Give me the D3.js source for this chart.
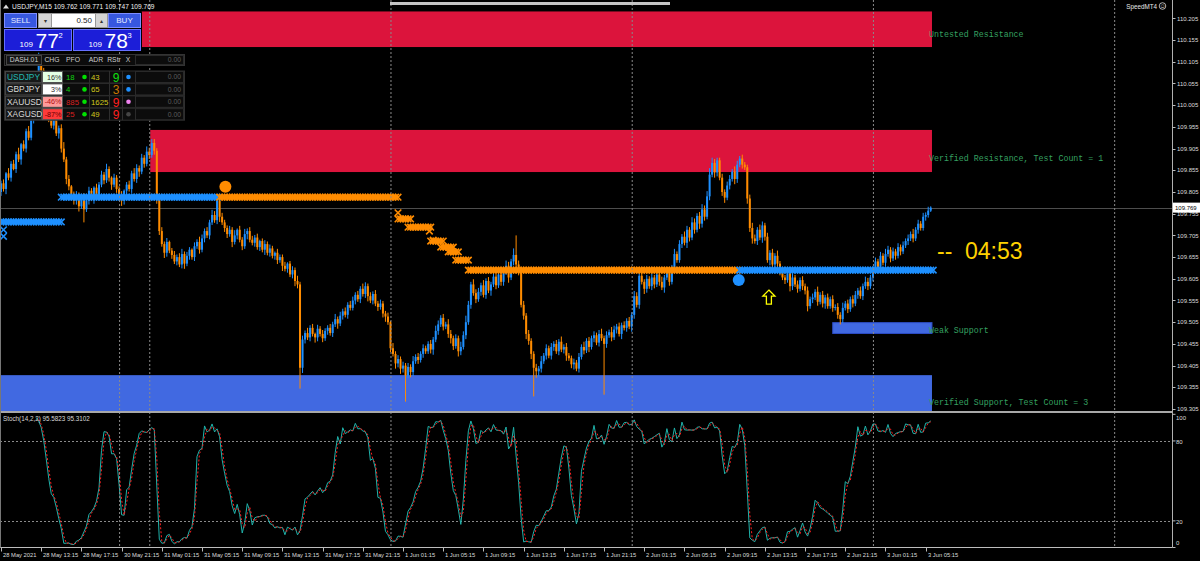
<!DOCTYPE html>
<html><head><meta charset="utf-8"><title>USDJPY,M15</title>
<script src="https://cdn.jsdelivr.net/npm/d3@7"></script>
<style>
html,body{margin:0;padding:0;background:#000;overflow:hidden;}
svg{display:block;font-family:"Liberation Sans",Arial,sans-serif;}
</style></head><body>
<svg id="chart" width="1200" height="561"></svg>
<script>
// ================= DATA =================
const symbolTitle = "USDJPY,M15";
const ohlcHeader = ["109.762", "109.771", "109.747", "109.769"];
const lastPrice = 109.769;
const firstOpen = 109.805;
// M15 closes, 28 May 09:15 -> 3 Jun 05:45
const closes = [
109.825,109.812,109.848,109.838,109.870,109.858,109.892,109.880,109.915,109.905,
109.945,109.930,109.975,110.020,110.060,110.105,110.085,110.050,110.010,109.975,
109.958,109.972,109.940,109.952,109.905,109.880,109.835,109.818,109.800,109.785,
109.798,109.772,109.790,109.765,109.785,109.808,109.790,109.815,109.798,109.822,
109.845,109.832,109.858,109.838,109.822,109.838,109.812,109.798,109.785,109.808,
109.822,109.812,109.848,109.835,109.860,109.852,109.884,109.870,109.898,109.890,
109.918,109.900,109.790,109.715,109.685,109.665,109.690,109.670,109.660,109.645,
109.655,109.638,109.662,109.640,109.658,109.672,109.655,109.680,109.690,109.672,
109.698,109.715,109.705,109.735,109.752,109.740,109.785,109.748,109.735,109.722,
109.708,109.718,109.690,109.705,109.718,109.695,109.680,109.708,109.715,109.695,
109.688,109.700,109.678,109.692,109.672,109.685,109.665,109.675,109.658,109.665,
109.648,109.655,109.635,109.628,109.640,109.615,109.625,109.600,109.592,109.400,
109.465,109.480,109.470,109.492,109.478,109.470,109.490,109.478,109.468,109.485,
109.492,109.480,109.500,109.512,109.502,109.520,109.530,109.522,109.545,109.538,
109.555,109.568,109.558,109.582,109.570,109.588,109.565,109.555,109.570,109.548,
109.540,109.548,109.525,109.518,109.505,109.445,109.432,109.410,109.420,109.398,
109.405,109.382,109.402,109.390,109.415,109.425,109.418,109.432,109.445,109.438,
109.455,109.442,109.465,109.485,109.500,109.515,109.495,109.500,109.478,109.468,
109.450,109.468,109.438,109.448,109.475,109.505,109.545,109.592,109.572,109.558,
109.575,109.590,109.568,109.600,109.578,109.592,109.610,109.590,109.615,109.598,
109.620,109.635,109.608,109.645,109.660,109.638,109.622,109.545,109.520,109.478,
109.462,109.432,109.400,109.392,109.398,109.415,109.428,109.445,109.428,109.448,
109.455,109.438,109.460,109.442,109.448,109.428,109.422,109.408,109.412,109.398,
109.425,109.448,109.440,109.462,109.448,109.468,109.475,109.458,109.478,109.468,
109.455,109.475,109.482,109.470,109.488,109.495,109.478,109.498,109.492,109.508,
109.495,109.522,109.565,109.545,109.612,109.598,109.582,109.605,109.588,109.608,
109.592,109.615,109.598,109.585,109.608,109.620,109.598,109.628,109.662,109.648,
109.685,109.702,109.688,109.718,109.700,109.735,109.718,109.750,109.732,109.765,
109.748,109.795,109.845,109.872,109.850,109.878,109.838,109.805,109.792,109.820,
109.835,109.852,109.835,109.868,109.882,109.868,109.862,109.790,109.722,109.698,
109.692,109.718,109.700,109.728,109.702,109.648,109.665,109.638,109.658,109.640,
109.622,109.608,109.602,109.618,109.588,109.608,109.592,109.582,109.602,109.588,
109.578,109.542,109.558,109.562,109.575,109.552,109.568,109.548,109.562,109.542,
109.558,109.538,109.540,109.522,109.512,109.538,109.548,109.535,109.558,109.548,
109.568,109.578,109.565,109.588,109.598,109.588,109.608,109.622,109.645,109.628,
109.658,109.642,109.662,109.672,109.652,109.668,109.658,109.678,109.668,109.682,
109.692,109.698,109.708,109.698,109.718,109.732,109.722,109.748,109.752,109.762,109.769
];
// wick lengths above / below the body, in 0.003 steps
const WICK_STEP = 0.003;
const wickUp = [
2,3,1,4,2,3,2,5,1,3, 2,4,3,1,3,7,4,2,3,5, 3,2,4,2,3,5,2,3,1,2, 3,2,1,4,2,3,2,1,3,2,
3,2,4,2,1,3,2,2,3,1, 2,3,2,4,3,2,3,2,4,3, 3,3,2,4,3,2,3,1,2,3, 2,3,4,2,3,2,1,3,2,4,
3,2,3,2,4,3,3,2,3,2, 2,3,2,4,1,3,2,4,2,3, 3,2,3,1,2,3,2,3,2,1, 3,2,2,3,1,2,3,2,4,2,
3,2,4,2,3,1,3,2,3,2, 2,3,2,4,2,3,2,3,2,3, 3,2,3,2,4,3,2,3,2,3, 2,3,2,2,3,1,4,2,3,2,
3,2,3,2,4,2,3,2,3,2, 2,3,2,4,3,2,3,2,4,3, 2,3,2,4,3,5,3,2,4,3, 3,2,4,2,3,2,4,2,3,3,
2,4,3,2,5,15,3,2,3,2, 3,2,2,3,2,4,2,3,2,3, 2,3,2,4,2,3,2,2,3,2, 3,2,4,2,3,2,3,2,3,4,
2,3,2,4,3,2,3,2,3,2, 3,2,4,3,5,3,2,3,2,3, 2,3,2,4,2,3,2,3,4,2, 3,2,4,3,2,4,3,2,3,4,
3,4,5,4,3,2,2,3,2,3, 3,2,4,3,2,3,2,2,3,4, 3,2,4,3,2,3,2,3,2,4, 2,3,2,4,2,3,2,3,2,3,
2,3,2,3,2,4,2,3,2,3, 2,3,2,3,2,4,2,3,2,3, 3,2,3,2,4,3,2,4,3,2, 3,2,4,3,2,3,2,3,2,3,
2,3,2,4,2,3,2,3,2,3,1
];
const wickDn = [
3,2,4,2,3,1,3,2,4,2, 3,2,2,4,3,2,3,1,2,3, 2,3,2,4,3,2,4,3,2,3, 3,4,2,10,2,3,2,4,2,3,
2,3,2,3,4,2,3,2,4,3, 3,2,3,2,3,4,2,3,2,3, 2,3,4,3,2,4,3,2,3,2, 3,2,3,4,2,3,2,3,2,3,
2,3,2,3,2,2,3,4,2,3, 3,2,4,2,3,2,3,2,4,2, 2,3,2,3,2,4,2,3,2,3, 3,2,4,2,3,2,3,4,3,16,
4,3,2,3,2,4,3,2,3,2, 3,2,3,2,4,2,3,2,3,2, 2,3,2,3,2,3,4,2,3,2, 3,2,3,4,2,3,2,4,3,4,
3,20,2,4,3,2,3,2,3,2, 2,3,4,2,3,2,3,2,3,4, 3,2,4,3,2,3,2,3,2,3, 2,3,2,3,2,4,2,3,2,3,
3,2,4,2,3,2,3,2,3,4, 3,4,22,5,4,3,2,3,2,3, 3,2,3,2,3,4,2,3,4,2, 3,2,3,2,4,2,3,2,3,2,
39,3,2,3,2,3,2,4,2,3, 2,4,3,2,3,2,4,3,2,3, 3,2,3,2,4,2,3,2,3,2, 2,3,2,4,3,2,3,2,4,3,
3,2,3,2,4,3,2,3,4,2, 3,2,4,3,2,3,2,4,3,4, 2,3,2,4,3,2,4,3,2,3, 3,2,3,2,4,3,2,3,2,3,
3,4,2,3,2,3,2,3,4,2, 2,3,2,3,4,3,2,3,2,3, 2,3,2,3,2,3,2,3,2,2, 3,2,3,2,3,2,3,2,3,2,
2,3,2,3,2,3,2,2,3,2,1
];
const timeLabels = ["28 May 2021","28 May 13:15","28 May 17:15","30 May 21:15","31 May 01:15","31 May 05:15",
  "31 May 09:15","31 May 13:15","31 May 17:15","31 May 21:15","1 Jun 01:15","1 Jun 05:15","1 Jun 09:15",
  "1 Jun 13:15","1 Jun 17:15","1 Jun 21:15","2 Jun 01:15","2 Jun 05:15","2 Jun 09:15","2 Jun 13:15",
  "2 Jun 17:15","2 Jun 21:15","3 Jun 01:15","3 Jun 05:15"];
const barsPerTimeLabel = 16;
const priceTickLabels = ["110.205","110.155","110.105","110.055","110.005","109.955","109.905","109.855",
  "109.805","109.755","109.705","109.655","109.605","109.555","109.505","109.455","109.405","109.355","109.305"];
const daySeparatorBars = [47, 59, 155, 251, 347, 443];
// supply / demand zones
const zoneNames  = ["Untested Resistance","Verified Resistance, Test Count = 1","Weak Support","Verified Support, Test Count = 3"];
const zoneStart  = [56, 59.4, 331, -1];
const zoneEnd    = [370.5, 370.5, 370.5, 370.5];
const zoneTop    = [110.221, 109.948, 109.504, 109.383];
const zoneBottom = [110.139, 109.851, 109.479, 109.280];
const zoneColors = ["#DC143C","#DC143C","#4169E1","#4169E1"];
const zoneLabelPrice = [110.168, 109.884, 109.486, 109.322];
// cross-marker level lines
const lvlStart = [0, 24, 87, 158, 162, 171, 175, 178, 181, 186, 294];
const lvlEnd   = [24, 86, 158, 163, 171, 176, 180, 182, 186, 293, 371];
const lvlPrice = [109.736,109.793,109.793,109.743,109.724,109.692,109.678,109.667,109.648,109.625,109.625];
const lvlColor = ["#1E90FF","#1E90FF","#FF8C00","#FF8C00","#FF8C00","#FF8C00","#FF8C00","#FF8C00","#FF8C00","#FF8C00","#1E90FF"];
const extraCrossBar   = [1, 1, 158, 170.5, 172];
const extraCrossPrice = [109.718, 109.703, 109.757, 109.715, 109.694];
const extraCrossColor = ["#1E90FF","#1E90FF","#FF8C00","#FF8C00","#FF8C00"];
const dotBar = [89.3, 293.6], dotPrice = [109.817, 109.602], dotColor = ["#FF8C00","#1E90FF"];
const arrowBar = 305.6, arrowPrice = 109.579;
const countdown = ["--", "04:53"];
// stochastic settings & caption
const stochK = 14, stochD = 2, stochSlow = 2;
const stochCaption = "Stoch(14,2,2) 95.5823 95.3102";
const stochLevels = [20, 80];
const stochAxisLabels = ["100","80","20","0"];
// dashboard
const lotSize = "0.50";
const bidParts = ["109","77","2"], askParts = ["109","78","3"];
const dashTitle = "DASH.01";
const dashHeaders = ["CHG","PFO","ADR","RStr","X"];
const dashSymbols = ["USDJPY","GBPJPY","XAUUSD","XAGUSD"];
const dashChg = ["16%","3%","-46%","-87%"];
const dashPfo = ["18","4","885","25"];
const dashAdr = ["43","65","1625","49"];
const dashRstr = ["9","3","9","9"];
const dashPnl = "0.00";

// ================= LAYOUT =================
const svg = d3.select("#chart");
const axisX = 1172.5, mainBottom = 411, subTop = 413, subBottom = 547.5;
const x = d3.scaleLinear().domain([0, 368]).range([1, 925.7]);
const y = d3.scaleLinear().domain([109.305, 110.205]).range([409, 18.4]);
const ys = d3.scaleLinear().domain([0, 100]).range([547.5, 414.3]);

svg.append("rect").attr("width",1200).attr("height",561).attr("fill","#000");
const defs = svg.append("defs");
defs.append("clipPath").attr("id","clipMain").append("rect").attr("x",0).attr("y",0).attr("width",axisX).attr("height",mainBottom);
defs.append("clipPath").attr("id","clipSub").append("rect").attr("x",0).attr("y",subTop).attr("width",axisX).attr("height",subBottom-subTop);

const main = svg.append("g").attr("clip-path","url(#clipMain)");
const sub = svg.append("g").attr("clip-path","url(#clipSub)");

// zones
zoneNames.forEach((n,k)=>{
  const x0 = zoneStart[k] < 0 ? 0 : x(zoneStart[k]);
  main.append("rect").attr("x",x0).attr("y",y(zoneTop[k]))
    .attr("width",x(zoneEnd[k])-x0).attr("height",y(zoneBottom[k])-y(zoneTop[k]))
    .attr("fill",zoneColors[k]).attr("stroke", k===2 ? "#2c4cc4" : "none").attr("stroke-width",1);
});

// day separators
daySeparatorBars.forEach(b=>{
  svg.append("line").attr("x1",x(b)+0.5).attr("x2",x(b)+0.5).attr("y1",0).attr("y2",subBottom)
    .attr("stroke","#8a8a8a").attr("stroke-dasharray","2,2").attr("stroke-width",1);
});

// current price line
main.append("line").attr("x1",0).attr("x2",axisX).attr("y1",Math.round(y(lastPrice))+0.5).attr("y2",Math.round(y(lastPrice))+0.5)
  .attr("stroke","#4d4d4d").attr("stroke-width",1);

// candles
const bars = closes.map((c,i)=>{
  const o = i ? closes[i-1] : firstOpen;
  return {i, o, c, hi: Math.max(o,c)+wickUp[i]*WICK_STEP, lo: Math.min(o,c)-wickDn[i]*WICK_STEP};
});
const cg = main.append("g");
bars.forEach(b=>{
  const col = b.c >= b.o ? "#1E90FF" : "#FF8C00";
  cg.append("line").attr("x1",x(b.i)).attr("x2",x(b.i)).attr("y1",y(b.hi)).attr("y2",y(b.lo))
    .attr("stroke",col).attr("stroke-width",1);
  const top = y(Math.max(b.o,b.c)), bot = y(Math.min(b.o,b.c));
  cg.append("rect").attr("x",x(b.i)-1).attr("width",2).attr("y",top).attr("height",Math.max(1,bot-top)).attr("fill",col);
});

// level lines made of × markers
const timesSym = d3.symbol().type(d3.symbolTimes).size(30);
const lg = main.append("g");
lvlStart.forEach((s,k)=>{
  lg.append("line").attr("x1",x(s)).attr("x2",x(lvlEnd[k])).attr("y1",y(lvlPrice[k])).attr("y2",y(lvlPrice[k]))
    .attr("stroke",lvlColor[k]).attr("stroke-width",4);
  for(let i=s;i<=lvlEnd[k];i++){
    lg.append("path").attr("d",timesSym()).attr("transform",`translate(${x(i)},${y(lvlPrice[k])})`)
      .attr("stroke",lvlColor[k]).attr("stroke-width",1.6).attr("fill","none");
  }
});
extraCrossBar.forEach((b,k)=>{
  lg.append("path").attr("d",timesSym()).attr("transform",`translate(${x(b)},${y(extraCrossPrice[k])})`)
    .attr("stroke",extraCrossColor[k]).attr("stroke-width",1.6).attr("fill","none");
});
dotBar.forEach((b,k)=>{
  lg.append("circle").attr("cx",x(b)).attr("cy",y(dotPrice[k])).attr("r",6).attr("fill",dotColor[k]);
});
// up arrow
{
  const ax = x(arrowBar), ay = y(arrowPrice);
  const pts = [[0,0],[6,6],[2.5,6],[2.5,14],[-2.5,14],[-2.5,6],[-6,6]].map(p=>[ax+p[0],ay+p[1]]);
  lg.append("path").attr("d",d3.line()(pts)+"Z").attr("fill","none").attr("stroke","#FFFF00").attr("stroke-width",1.3);
}

// zone labels
zoneNames.forEach((n,k)=>{
  svg.append("text").attr("x",x(zoneEnd[k])-3).attr("y",y(zoneLabelPrice[k])).attr("dy","0.35em")
    .attr("font-family","'Liberation Mono','DejaVu Sans Mono',monospace").attr("font-size",8.3)
    .attr("fill","#35a061").text(n);
});

// countdown
svg.append("text").attr("x",937).attr("y",259).attr("font-size",23).attr("fill","#FFD200").text(countdown[0]);
svg.append("text").attr("x",965).attr("y",259).attr("font-size",23).attr("fill","#FFD200").text(countdown[1]);

// ---------- stochastic ----------
const kLine = bars.map((b,i)=>{
  if(i < stochK-1+stochSlow-1) return null;
  let num=0, den=0;
  for(let j=i-stochSlow+1;j<=i;j++){
    const win = bars.slice(j-stochK+1,j+1);
    const hh = d3.max(win,d=>d.hi), ll = d3.min(win,d=>d.lo);
    num += closes[j]-ll; den += hh-ll;
  }
  return den ? num/den*100 : 50;
});
const dLine = kLine.map((v,i)=>{
  const w = kLine.slice(i-stochD+1,i+1);
  if(i < stochD-1 || w.some(q=>q==null)) return null;
  return d3.mean(w);
});
stochLevels.forEach(l=>{
  sub.append("line").attr("x1",0).attr("x2",axisX).attr("y1",Math.round(ys(l))+0.5).attr("y2",Math.round(ys(l))+0.5)
    .attr("stroke","#8a8a8a").attr("stroke-dasharray","2,2");
});
const sl = d3.line().defined(v=>v!=null).x((v,i)=>x(i)).y(v=>ys(v));
sub.append("path").attr("d",sl(kLine)).attr("fill","none").attr("stroke","#20B2AA").attr("stroke-width",1);
sub.append("path").attr("d",sl(dLine)).attr("fill","none").attr("stroke","#FF2020").attr("stroke-width",1).attr("stroke-dasharray","2,2");
svg.append("text").attr("x",3).attr("y",421).attr("font-size",6.3).attr("fill","#d8d8d8").text(stochCaption);

// ---------- frames & axes ----------
svg.append("line").attr("x1",0).attr("x2",axisX).attr("y1",412).attr("y2",412).attr("stroke","#a8a8a8").attr("stroke-width",2);
svg.append("line").attr("x1",0).attr("x2",axisX).attr("y1",subBottom).attr("y2",subBottom).attr("stroke","#bdbdbd");
svg.append("line").attr("x1",axisX).attr("x2",axisX).attr("y1",0).attr("y2",subBottom).attr("stroke","#b0b0b0");
svg.append("line").attr("x1",0.5).attr("x2",0.5).attr("y1",0).attr("y2",subBottom).attr("stroke","#777");

priceTickLabels.forEach(t=>{
  const yy = y(+t);
  svg.append("line").attr("x1",axisX).attr("x2",axisX+3).attr("y1",Math.round(yy)+0.5).attr("y2",Math.round(yy)+0.5).attr("stroke","#bbb");
  svg.append("text").attr("x",1177).attr("y",yy).attr("dy","0.35em").attr("font-size",6).attr("fill","#dcdcdc").text(t);
});
// current price tag
svg.append("rect").attr("x",axisX+0.5).attr("y",y(lastPrice)-5).attr("width",27).attr("height",10).attr("fill","#fff");
svg.append("text").attr("x",1175).attr("y",y(lastPrice)).attr("dy","0.35em").attr("font-size",6).attr("fill","#000").text(lastPrice.toFixed(3));

// stochastic axis
const stochLabelY = [417.5, 441.5, 521.5, 543];
stochAxisLabels.forEach((t,k)=>{
  svg.append("line").attr("x1",axisX).attr("x2",axisX+3).attr("y1",ys(+t)).attr("y2",ys(+t)).attr("stroke","#bbb");
  svg.append("text").attr("x",1176).attr("y",stochLabelY[k]).attr("dy","0.35em").attr("font-size",6).attr("fill","#dcdcdc").text(t);
});

// time axis
timeLabels.forEach((t,k)=>{
  const xx = Math.round(x(k*barsPerTimeLabel))+0.5;
  svg.append("line").attr("x1",xx).attr("x2",xx).attr("y1",subBottom).attr("y2",subBottom+4).attr("stroke","#bbb");
  svg.append("text").attr("x",xx+1.5).attr("y",557).attr("font-size",5.8).attr("fill","#dcdcdc").text(t);
});

// title & top widgets
svg.append("path").attr("d","M3,8.5 L6,4.5 L9,8.5 Z").attr("fill","#ddd");
svg.append("text").attr("x",12).attr("y",8.5).attr("font-size",6.6).attr("fill","#f0f0f0")
  .text(symbolTitle+"  "+ohlcHeader.join(" "));
svg.append("rect").attr("x",390).attr("y",2).attr("width",280).attr("height",3).attr("fill","#c4c4c4");
svg.append("text").attr("x",1157).attr("y",8.5).attr("text-anchor","end").attr("font-size",6.3).attr("fill","#e8e8e8").text("SpeedMT4");
svg.append("circle").attr("cx",1162.5).attr("cy",6).attr("r",3.3).attr("fill","none").attr("stroke","#ddd").attr("stroke-width",0.8);
svg.append("text").attr("x",1162.5).attr("y",6).attr("dy","0.35em").attr("text-anchor","middle").attr("font-size",6).attr("fill","#ddd").text("☺");

// ---------- dashboard ----------
const dg = svg.append("g");
dg.append("rect").attr("x",3).attr("y",12).attr("width",139).attr("height",40).attr("fill","#000");
dg.append("rect").attr("x",4.5).attr("y",13.5).attr("width",32).attr("height",14).attr("fill","#3757df").attr("stroke","#7d8dff");
dg.append("text").attr("x",20.5).attr("y",20.5).attr("dy","0.35em").attr("text-anchor","middle").attr("font-size",8).attr("fill","#e6ebff").text("SELL");
dg.append("rect").attr("x",108.5).attr("y",13.5).attr("width",32).attr("height",14).attr("fill","#3757df").attr("stroke","#7d8dff");
dg.append("text").attr("x",124.5).attr("y",20.5).attr("dy","0.35em").attr("text-anchor","middle").attr("font-size",8).attr("fill","#e6ebff").text("BUY");
dg.append("rect").attr("x",38.5).attr("y",13.5).attr("width",13).attr("height",14).attr("fill","#d4d4d4").attr("stroke","#999");
dg.append("text").attr("x",45).attr("y",20.5).attr("dy","0.35em").attr("text-anchor","middle").attr("font-size",6).attr("fill","#333").text("▾");
dg.append("rect").attr("x",51.5).attr("y",13.5).attr("width",44).attr("height",14).attr("fill","#fff").attr("stroke","#999");
dg.append("text").attr("x",92).attr("y",20.5).attr("dy","0.35em").attr("text-anchor","end").attr("font-size",8).attr("fill","#222").text(lotSize);
dg.append("rect").attr("x",95.5).attr("y",13.5).attr("width",12).attr("height",14).attr("fill","#d4d4d4").attr("stroke","#999");
dg.append("text").attr("x",101.5).attr("y",20.5).attr("dy","0.35em").attr("text-anchor","middle").attr("font-size",6).attr("fill","#333").text("▴");
[[4.5,bidParts],[73.5,askParts]].forEach(([bx,parts])=>{
  dg.append("rect").attr("x",bx).attr("y",29.5).attr("width",67).attr("height",21).attr("fill","#1c1ed8").attr("stroke","#6670ff");
  dg.append("text").attr("x",bx+15).attr("y",47).attr("font-size",8).attr("fill","#fff").text(parts[0]);
  dg.append("text").attr("x",bx+31).attr("y",48).attr("font-size",21).attr("fill","#fff").text(parts[1]);
  dg.append("text").attr("x",bx+54).attr("y",38).attr("font-size",7.5).attr("fill","#fff").text(parts[2]);
});
// header row
dg.append("rect").attr("x",4.5).attr("y",54.5).attr("width",180).attr("height",11).attr("fill","#0c0c0c").attr("stroke","#333");
dg.append("rect").attr("x",6.5).attr("y",55.5).attr("width",35).attr("height",9).attr("fill","#141414").attr("stroke","#444");
dg.append("text").attr("x",24).attr("y",60).attr("dy","0.35em").attr("text-anchor","middle").attr("font-size",6.8).attr("fill","#cfcfcf").text(dashTitle);
const hdrX = [52, 73, 96, 114, 128];
dashHeaders.forEach((h,k)=>{
  dg.append("text").attr("x",hdrX[k]).attr("y",60).attr("dy","0.35em").attr("text-anchor","middle").attr("font-size",6.8).attr("fill","#cfcfcf").text(h);
});
dg.append("rect").attr("x",135.5).attr("y",55.5).attr("width",48).attr("height",9).attr("fill","#0c0c0c").attr("stroke","#2a2a2a");
dg.append("text").attr("x",181).attr("y",60).attr("dy","0.35em").attr("text-anchor","end").attr("font-size",6.8).attr("fill","#5c5c5c").text(dashPnl);
// symbol rows
const chgBg = ["#e4ffe4","#ffffff","#ff9a9a","#ff3a3a"], chgFg = ["#2b2b2b","#2b2b2b","#b01010","#6a0000"];
const pfoFg = ["#10d010","#10d010","#d82020","#d82020"];
const rstrFg = ["#10e010","#c87800","#ff2020","#ff2020"];
const dotFg = ["#1E90FF","#1E90FF","#ee82ee","#444"];
dashSymbols.forEach((s,k)=>{
  const ry = 71 + k*12.4, cy = ry + 6;
  dg.append("rect").attr("x",4.5).attr("y",ry).attr("width",180).attr("height",12).attr("fill","#0c0c0c").attr("stroke","#2e2e2e");
  dg.append("rect").attr("x",5.5).attr("y",ry+0.5).attr("width",36).attr("height",11).attr("fill","#181818").attr("stroke","#444");
  dg.append("text").attr("x",7).attr("y",cy).attr("dy","0.35em").attr("font-size",8.4).attr("fill", k===0 ? "#22b8b0" : "#d8d8d8").text(s);
  dg.append("rect").attr("x",42.5).attr("y",ry+0.5).attr("width",20).attr("height",11).attr("fill",chgBg[k]).attr("stroke","#555");
  dg.append("text").attr("x",61.5).attr("y",cy).attr("dy","0.35em").attr("text-anchor","end").attr("font-size",7.2).attr("fill",chgFg[k]).text(dashChg[k]);
  dg.append("text").attr("x",66).attr("y",cy).attr("dy","0.35em").attr("font-size",7.8).attr("fill",pfoFg[k]).text(dashPfo[k]);
  dg.append("circle").attr("cx",84.5).attr("cy",cy).attr("r",2.3).attr("fill","#00e000");
  dg.append("line").attr("x1",89.5).attr("x2",89.5).attr("y1",ry).attr("y2",ry+12).attr("stroke","#2e2e2e");
  dg.append("text").attr("x",91).attr("y",cy).attr("dy","0.35em").attr("font-size",7.8).attr("fill","#cfc81c").text(dashAdr[k]);
  dg.append("line").attr("x1",109.5).attr("x2",109.5).attr("y1",ry).attr("y2",ry+12).attr("stroke","#2e2e2e");
  dg.append("text").attr("x",116).attr("y",cy+0.5).attr("dy","0.35em").attr("text-anchor","middle").attr("font-size",12).attr("fill",rstrFg[k]).text(dashRstr[k]);
  dg.append("line").attr("x1",122.5).attr("x2",122.5).attr("y1",ry).attr("y2",ry+12).attr("stroke","#2e2e2e");
  dg.append("circle").attr("cx",128.5).attr("cy",cy).attr("r",2.3).attr("fill",dotFg[k]);
  dg.append("rect").attr("x",135.5).attr("y",ry+0.5).attr("width",48).attr("height",11).attr("fill","#0c0c0c").attr("stroke","#2a2a2a");
  dg.append("text").attr("x",181).attr("y",cy).attr("dy","0.35em").attr("text-anchor","end").attr("font-size",6.8).attr("fill","#5c5c5c").text(dashPnl);
});
</script>
</body></html>
